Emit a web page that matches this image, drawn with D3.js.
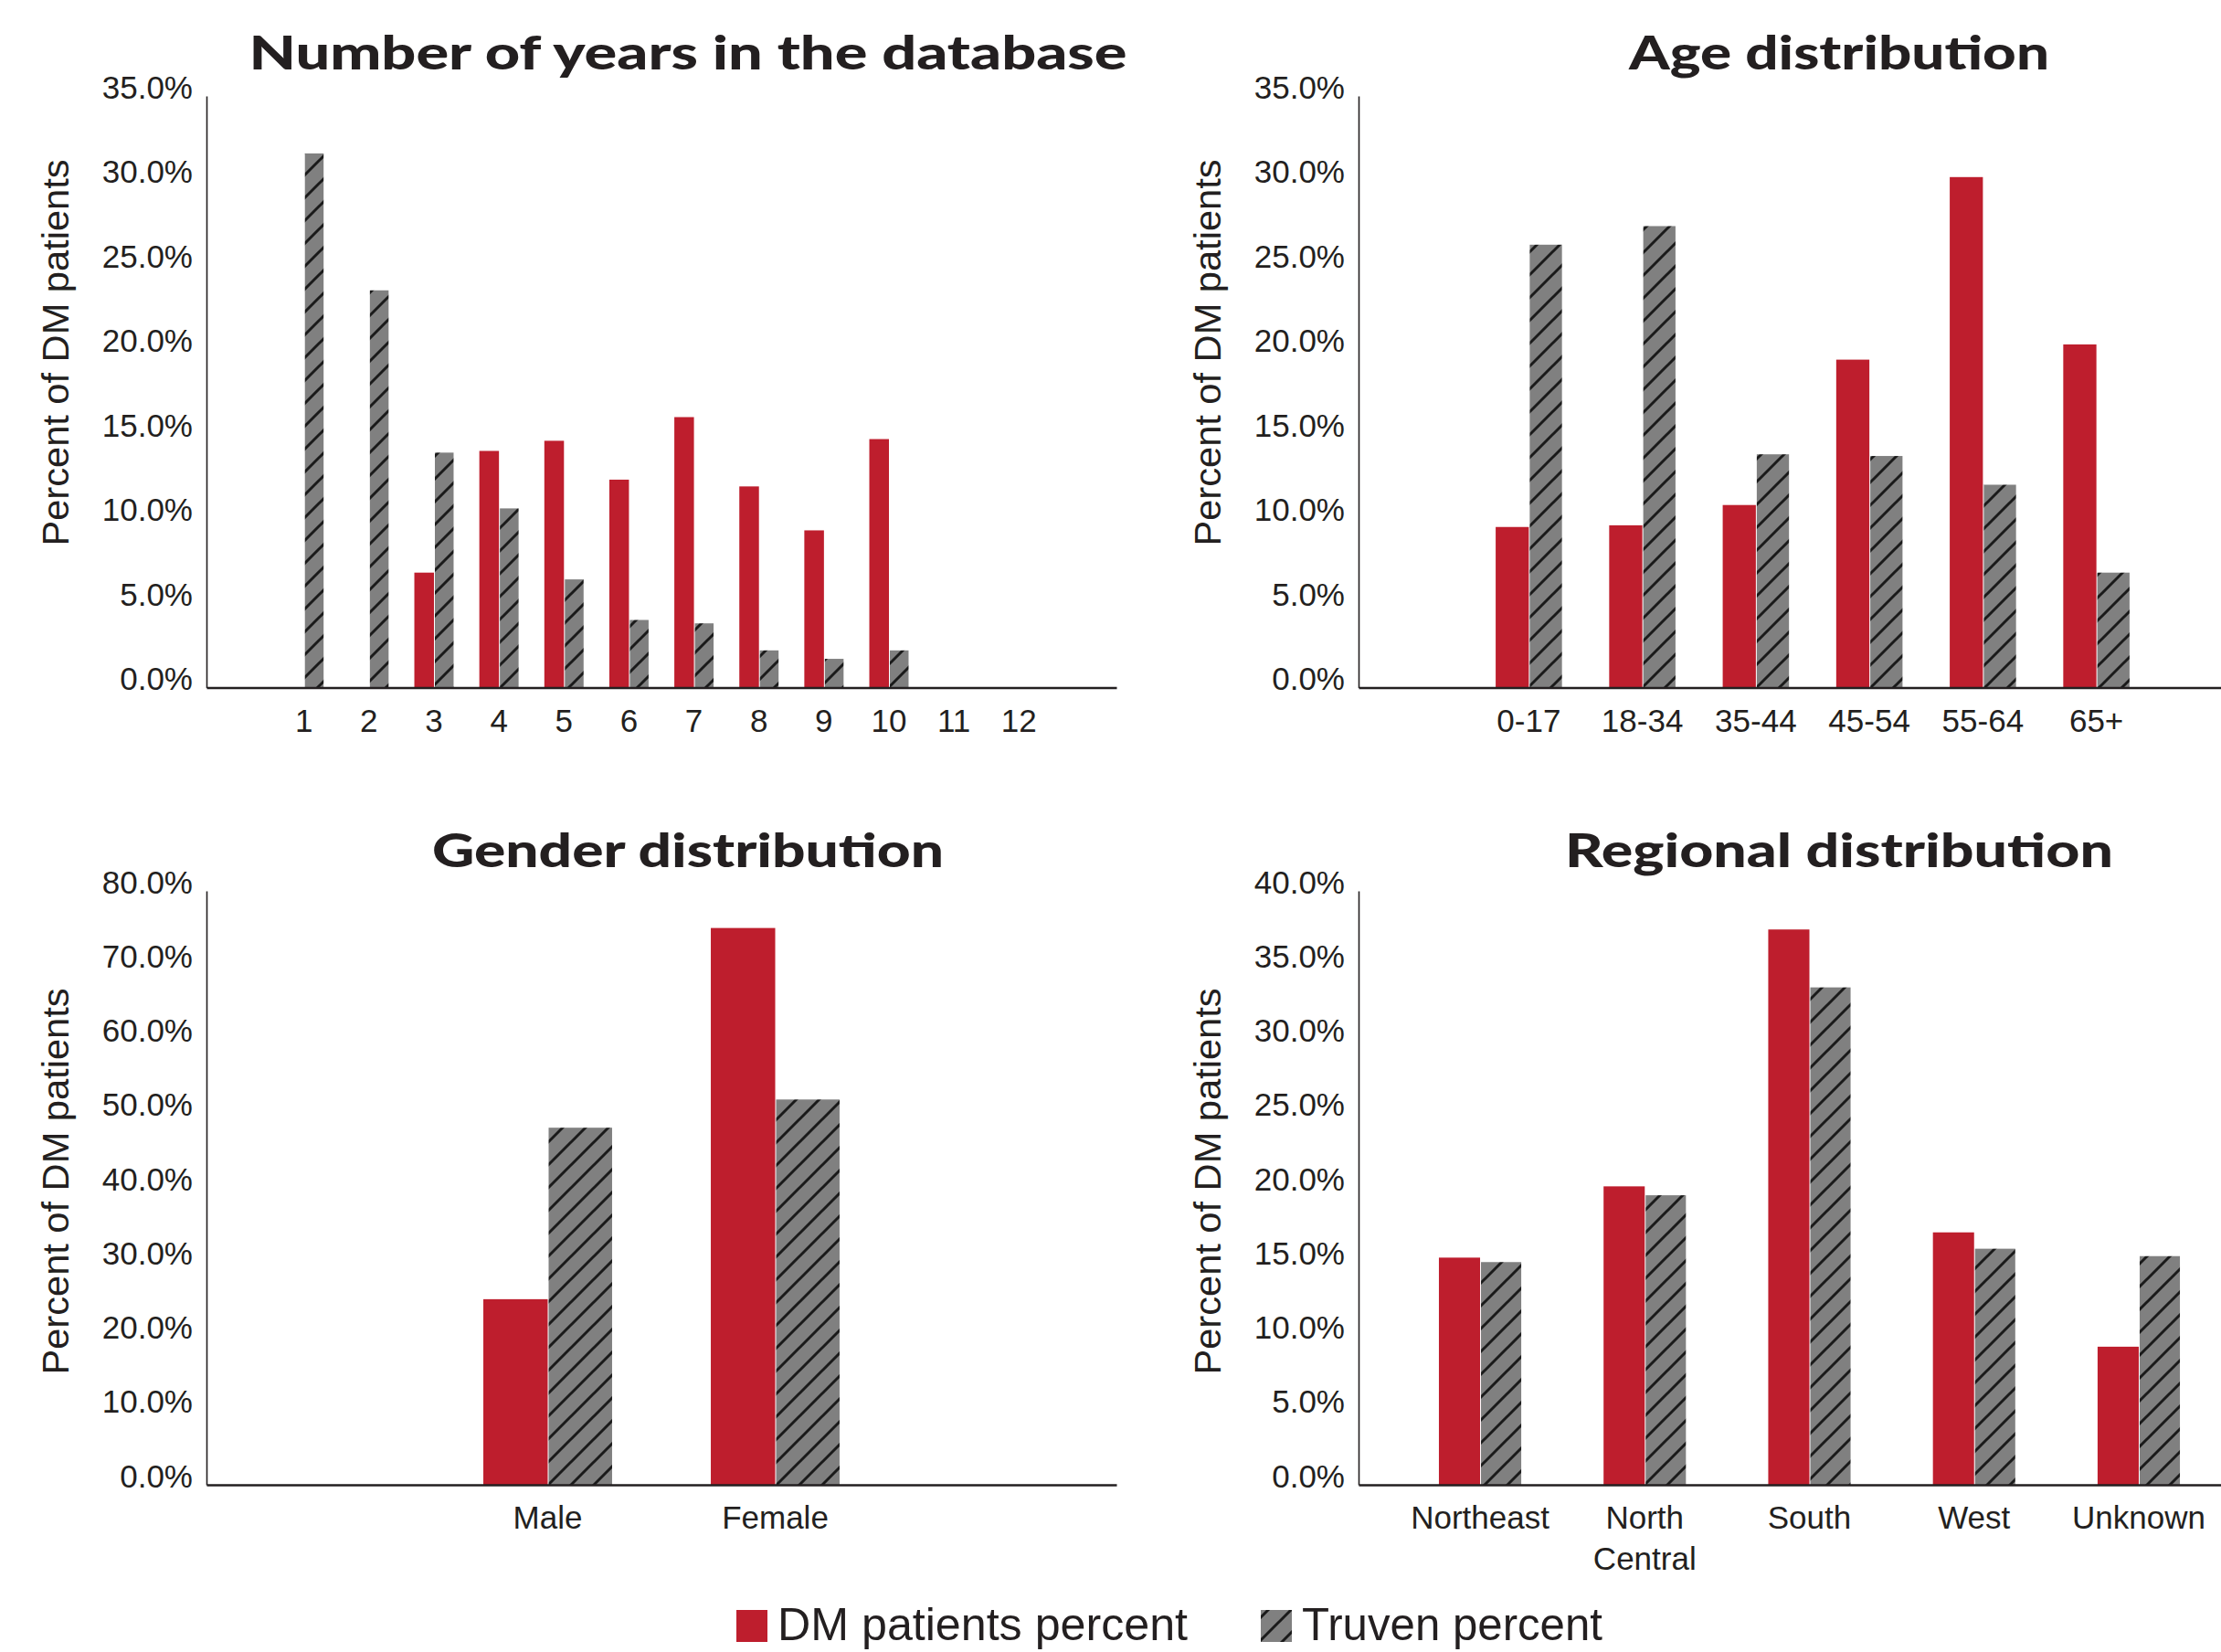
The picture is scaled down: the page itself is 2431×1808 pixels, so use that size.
<!DOCTYPE html>
<html>
<head>
<meta charset="utf-8">
<script src="https://cdn.jsdelivr.net/npm/d3@7"></script>
<style>
  body { margin: 0; background: #fff; }
  svg { display: block; }
  .tick-label { font-family: "Liberation Sans", Arial, sans-serif; font-size: 35px; fill: #231f20; }
  .axis-title { font-family: "Liberation Sans", Arial, sans-serif; font-size: 40px; fill: #231f20; }
  .chart-title { font-family: Lato, "DejaVu Sans", sans-serif; font-weight: 900; font-size: 52px; fill: #231f20; }
  .legend-label { font-family: "Liberation Sans", Arial, sans-serif; font-size: 50px; fill: #231f20; }
</style>
</head>
<body>
<svg width="2431" height="1808"></svg>
<script>
// values (percent)
const yearCats = ['1', '2', '3', '4', '5', '6', '7', '8', '9', '10', '11', '12'];
const yearDM = [0, 0, 6.8, 14.0, 14.6, 12.3, 16.0, 11.9, 9.3, 14.7, 0, 0];
const yearTruven = [31.6, 23.5, 13.9, 10.6, 6.4, 4.0, 3.8, 2.2, 1.7, 2.2, 0, 0];

const ageCats = ['0-17', '18-34', '35-44', '45-54', '55-64', '65+'];
const ageDM = [9.5, 9.6, 10.8, 19.4, 30.2, 20.3];
const ageTruven = [26.2, 27.3, 13.8, 13.7, 12.0, 6.8];

const genderCats = ['Male', 'Female'];
const genderDM = [25.0, 75.0];
const genderTruven = [48.1, 51.9];

const regionCats = ['Northeast', 'North Central', 'South', 'West', 'Unknown'];
const regionDM = [15.3, 20.1, 37.4, 17.0, 9.3];
const regionTruven = [15.0, 19.5, 33.5, 15.9, 15.4];

const seriesNames = ['DM patients percent', 'Truven percent'];

const red = '#be1e2d';
const gray = '#808080';
const ink = '#231f20';

const svg = d3.select('svg');

// hatch pattern for the Truven bars
const defs = svg.append('defs');
const pat = defs.append('pattern')
  .attr('id', 'hatch')
  .attr('patternUnits', 'userSpaceOnUse')
  .attr('width', 25)
  .attr('height', 25);
pat.append('rect').attr('width', 25).attr('height', 25).attr('fill', gray);
pat.append('path')
  .attr('d', 'M0,25 L25,0 M-6,6 L6,-6 M19,31 L31,19')
  .attr('stroke', '#1a1a1a')
  .attr('stroke-width', 3);

const fmt = d => d3.format('.1f')(d) + '%';

const drawPanel = (p) => {
  const g = svg.append('g');

  const x = d3.scaleBand()
    .domain(p.cats)
    .range([p.left, p.right])
    .paddingInner(0)
    .paddingOuter(p.outer);

  const y = d3.scaleLinear()
    .domain([0, p.yMax])
    .range([p.bottom, p.top]);

  const barW = x.bandwidth() * p.barFrac;

  // y axis
  const yAxis = d3.axisLeft(y)
    .tickValues(d3.range(0, p.yMax + 0.001, p.yStep))
    .tickSize(0)
    .tickPadding(15)
    .tickFormat(fmt);
  const yAxisG = g.append('g')
    .attr('transform', `translate(${p.left},0)`)
    .call(yAxis);
  yAxisG.select('.domain').attr('stroke', ink).attr('stroke-width', 1.6);
  yAxisG.selectAll('text')
    .attr('class', 'tick-label')
    .attr('dy', null)
    .attr('y', 2);
  yAxisG.attr('font-family', null).attr('font-size', null);

  // bars
  const rows = p.cats.map((c, i) => ({ cat: c, dm: p.dm[i], tr: p.tr[i] }));
  g.selectAll('.dm').data(rows).enter().append('rect')
    .attr('class', 'dm')
    .attr('x', d => x(d.cat) + x.bandwidth() / 2 - barW)
    .attr('y', d => y(d.dm))
    .attr('width', barW)
    .attr('height', d => y(0) - y(d.dm))
    .attr('fill', red);
  g.selectAll('.tr').data(rows).enter().append('rect')
    .attr('class', 'tr')
    .attr('x', d => x(d.cat) + x.bandwidth() / 2 + 1)
    .attr('y', d => y(d.tr))
    .attr('width', barW - 1)
    .attr('height', d => y(0) - y(d.tr))
    .attr('fill', 'url(#hatch)');

  // x axis
  const xAxis = d3.axisBottom(x).tickSize(0).tickFormat('');
  const xAxisG = g.append('g')
    .attr('transform', `translate(0,${p.bottom})`)
    .call(xAxis);
  xAxisG.select('.domain').attr('stroke', ink).attr('stroke-width', 2.6);

  // category labels, wrapped on spaces
  const lab = g.selectAll('.cat').data(p.cats).enter().append('text')
    .attr('class', 'tick-label')
    .attr('text-anchor', 'middle')
    .attr('transform', d => `translate(${x(d) + x.bandwidth() / 2},${p.bottom + 48})`);
  lab.each(function (d) {
    const words = d.split(' ');
    words.forEach((w, i) => {
      d3.select(this).append('tspan')
        .attr('x', 0)
        .attr('y', i * 45)
        .text(w);
    });
  });

  // axis title
  g.append('text')
    .attr('class', 'axis-title')
    .attr('text-anchor', 'middle')
    .attr('transform', `translate(${p.left - 151},${p.titleMid}) rotate(-90)`)
    .attr('textLength', 423)
    .attr('lengthAdjust', 'spacingAndGlyphs')
    .text('Percent of DM patients');

  // chart title
  g.append('text')
    .attr('class', 'chart-title')
    .attr('text-anchor', 'middle')
    .attr('x', p.titleX)
    .attr('y', p.titleY)
    .attr('textLength', p.titleW)
    .attr('lengthAdjust', 'spacingAndGlyphs')
    .text(p.title);
};

drawPanel({ cats: yearCats, dm: yearDM, tr: yearTruven,
  left: 226, right: 1222, top: 105, bottom: 752.5, yMax: 35, yStep: 5,
  outer: 1, barFrac: 0.302, title: 'Number of years in the database',
  titleX: 753, titleY: 76, titleW: 961, titleMid: 386 });

drawPanel({ cats: ageCats, dm: ageDM, tr: ageTruven,
  left: 1487, right: 2481, top: 105, bottom: 752.5, yMax: 35, yStep: 5,
  outer: 1, barFrac: 0.292, title: 'Age distribution',
  titleX: 2013, titleY: 76, titleW: 460, titleMid: 386 });

drawPanel({ cats: genderCats, dm: genderDM, tr: genderTruven,
  left: 226, right: 1222, top: 975, bottom: 1625, yMax: 80, yStep: 10,
  outer: 1, barFrac: 0.283, title: 'Gender distribution',
  titleX: 753, titleY: 949, titleW: 560, titleMid: 1293 });

drawPanel({ cats: regionCats, dm: regionDM, tr: regionTruven,
  left: 1487, right: 2474, top: 975, bottom: 1625, yMax: 40, yStep: 5,
  outer: 0.238, barFrac: 0.25, title: 'Regional distribution',
  titleX: 2013, titleY: 949, titleW: 600, titleMid: 1293 });

// legend
const legend = [
  { name: seriesNames[0], fill: red, x: 806, w: 449 },
  { name: seriesNames[1], fill: 'url(#hatch)', x: 1380, w: 329 }
];
const lg = svg.append('g');
legend.forEach(l => {
  lg.append('rect')
    .attr('x', l.x).attr('y', 1762)
    .attr('width', 34).attr('height', 35)
    .attr('fill', l.fill);
  lg.append('text')
    .attr('class', 'legend-label')
    .attr('x', l.x + 45).attr('y', 1795)
    .attr('textLength', l.w)
    .attr('lengthAdjust', 'spacingAndGlyphs')
    .text(l.name);
});
</script>
</body>
</html>
